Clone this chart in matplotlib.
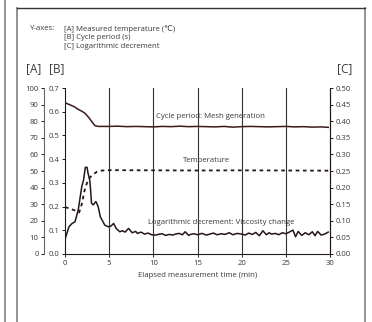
import matplotlib
matplotlib.use('Agg')
import matplotlib.pyplot as plt
from matplotlib.lines import Line2D
import numpy as np

plt.rcParams['font.family'] = ['Open Sans', 'DejaVu Sans']

# cycle period [B] (s)
cyc_t = [0, 0.5, 1.0, 1.5, 2.0, 2.3, 2.7, 3.1, 3.4, 3.8, 5, 6, 7, 8, 9, 10, 11, 12, 13, 14,
         15, 16, 17, 18, 19, 20, 21, 22, 23, 24, 25, 26, 27, 28, 29, 29.8]
cyc_v = [0.638, 0.630, 0.622, 0.610, 0.600, 0.592, 0.575, 0.555, 0.541, 0.538, 0.538, 0.539,
         0.537, 0.538, 0.537, 0.536, 0.538, 0.537, 0.539, 0.537, 0.538, 0.537, 0.536, 0.538,
         0.535, 0.537, 0.538, 0.537, 0.536, 0.537, 0.538, 0.536, 0.537, 0.535, 0.536, 0.534]

# measured temperature [A] (deg C)
tmp_t = [0, 0.5, 1.0, 1.6, 1.9, 2.2, 2.5, 2.8, 3.2, 3.6, 4.2, 5, 10, 15, 20, 25, 29.8]
tmp_v = [28.2, 27.5, 26.5, 25.0, 30.0, 38.0, 43.0, 46.0, 48.0, 49.5, 50.3, 50.5, 50.4,
         50.3, 50.4, 50.3, 50.2]

# logarithmic decrement [C]
dec_t = [0, 0.45, 0.8, 1.13, 1.5, 1.9, 2.1, 2.3, 2.5, 2.6, 2.8, 2.9, 3.0, 3.2, 3.5, 3.75,
         4.0, 4.3, 4.5, 4.9, 5.2, 5.5, 5.8, 6.2, 6.5, 6.8, 7.2, 7.6, 8.0, 8.2, 8.6, 9.0,
         9.4, 9.8, 10.3, 10.7, 11.0, 11.4, 11.8, 12.2, 12.5, 12.9, 13.3, 13.6, 14.0, 14.2,
         14.6, 15.0, 15.5, 16.0, 16.4, 16.8, 17.2, 17.7, 18.1, 18.6, 19.0, 19.5, 20.0,
         20.4, 20.8, 21.2, 21.6, 22.0, 22.4, 22.8, 23.1, 23.4, 23.8, 24.2, 24.6, 25.0,
         25.4, 25.8, 26.1, 26.4, 26.8, 27.2, 27.6, 28.0, 28.3, 28.6, 29.0, 29.4, 29.8]
dec_v = [0.044, 0.082, 0.092, 0.097, 0.133, 0.203, 0.223, 0.261, 0.261, 0.244, 0.223,
         0.193, 0.153, 0.148, 0.158, 0.143, 0.112, 0.097, 0.087, 0.082, 0.084, 0.092,
         0.077, 0.067, 0.070, 0.066, 0.077, 0.064, 0.068, 0.062, 0.066, 0.060, 0.063,
         0.058, 0.057, 0.060, 0.061, 0.056, 0.059, 0.057, 0.060, 0.062, 0.058, 0.067,
         0.056, 0.059, 0.061, 0.058, 0.062, 0.057, 0.060, 0.063, 0.058, 0.061, 0.059,
         0.064, 0.058, 0.062, 0.060, 0.057, 0.063, 0.059, 0.065, 0.055, 0.070, 0.058,
         0.064, 0.060, 0.062, 0.058, 0.064, 0.061, 0.066, 0.072, 0.052, 0.068, 0.056,
         0.064, 0.058, 0.067, 0.055, 0.068, 0.057, 0.060, 0.066]

x_ticks = [0, 5, 10, 15, 20, 25, 30]
a_ticks = np.arange(0, 101, 10)
b_ticks = np.arange(0, 0.71, 0.1)
c_ticks = np.arange(0, 0.501, 0.05)

dark = '#231815'
txt = '#3a3a3a'
fs = 5.6

fig = plt.figure(figsize=(3.72, 3.22), dpi=100)
ax = fig.add_axes([65/372, 68/322, 265/372, 166/322])

ax.set_xlim(0, 30)
ax.set_ylim(0, 0.7)
ax.set_xticks(x_ticks)
ax.set_yticks(b_ticks)
ax.set_yticklabels(['%.1f' % v for v in b_ticks])
for v in x_ticks[1:-1]:
    ax.axvline(v, color='#333333', lw=0.8, zorder=1)
ax.tick_params(direction='out', length=2.5, width=0.7, labelsize=fs, colors=dark,
               labelcolor=txt, pad=1.5)
ax.set_xlabel('Elapsed measurement time (min)', fontsize=fs, color=txt, labelpad=4)
for s in ['top']:
    ax.spines[s].set_visible(False)
for s in ['left', 'bottom', 'right']:
    ax.spines[s].set_linewidth(0.8)
    ax.spines[s].set_color(dark)

ax_a = ax.twinx()
ax_a.yaxis.set_ticks_position('left')
ax_a.spines['left'].set_position(('axes', -0.079))
ax_a.spines['left'].set_color('#666666')
ax_a.spines['left'].set_linewidth(0.8)
for s in ['top', 'right', 'bottom']:
    ax_a.spines[s].set_visible(False)
ax_a.set_ylim(0, 100)
ax_a.set_yticks(a_ticks)
ax_a.tick_params(direction='out', length=2.5, width=0.7, labelsize=fs, colors=dark,
                 labelcolor=txt, pad=1.5)

ax_c = ax.twinx()
for s in ['top', 'left', 'bottom']:
    ax_c.spines[s].set_visible(False)
ax_c.spines['right'].set_color(dark)
ax_c.spines['right'].set_linewidth(0.8)
ax_c.set_ylim(0, 0.5)
ax_c.set_yticks(c_ticks)
ax_c.set_yticklabels(['%.2f' % v for v in c_ticks])
ax_c.tick_params(direction='out', length=2.5, width=0.7, labelsize=fs, colors=dark,
                 labelcolor=txt, pad=1.5)

ax.plot(cyc_t, cyc_v, color='#3a1a1a', lw=1.1, zorder=3)
ax_a.plot(tmp_t, tmp_v, color=dark, lw=1.3, ls=(0, (2, 2)))
ax_c.plot(dec_t, dec_v, color=dark, lw=1.1)

ax.text(16.5, 0.578, 'Cycle period: Mesh generation', fontsize=fs, color=txt,
        ha='center', va='center', zorder=5)
ax.text(16.0, 0.396, 'Temperature', fontsize=fs, color=txt, ha='center', va='center', zorder=5)
ax.text(17.7, 0.134, 'Logarithmic decrement: Viscosity change', fontsize=fs, color=txt,
        ha='center', va='center', zorder=5)

fig.text(30/372, 1 - 28/322, 'Y-axes:', fontsize=fs, color=txt, va='center')
fig.text(64/372, 1 - 29/322, '[A] Measured temperature (\u2103)', fontsize=fs, color=txt, va='center')
fig.text(64/372, 1 - 37.5/322, '[B] Cycle period (s)', fontsize=fs, color=txt, va='center')
fig.text(64/372, 1 - 46/322, '[C] Logarithmic decrement', fontsize=fs, color=txt, va='center')
fig.text(26/372, 1 - 69/322, '[A]', fontsize=8.5, color=txt, va='center')
fig.text(49/372, 1 - 69/322, '[B]', fontsize=8.5, color=txt, va='center')
fig.text(337/372, 1 - 69/322, '[C]', fontsize=8.5, color=txt, va='center')

# surrounding frame
fig.add_artist(Line2D([5/372, 5/372], [0, 1], transform=fig.transFigure, color='#8a8a8a', lw=1.3))
fig.add_artist(Line2D([17/372, 17/372], [0, 1 - 8/322], transform=fig.transFigure,
                      color='#8a8a8a', lw=1.3))
fig.add_artist(Line2D([365/372, 365/372], [0, 1 - 8/322], transform=fig.transFigure,
                      color='#8a8a8a', lw=1.3))
fig.add_artist(Line2D([17/372, 365/372], [1 - 8/322, 1 - 8/322], transform=fig.transFigure,
                      color='#3a3333', lw=1.0))

fig.savefig('out.png', dpi=100)
